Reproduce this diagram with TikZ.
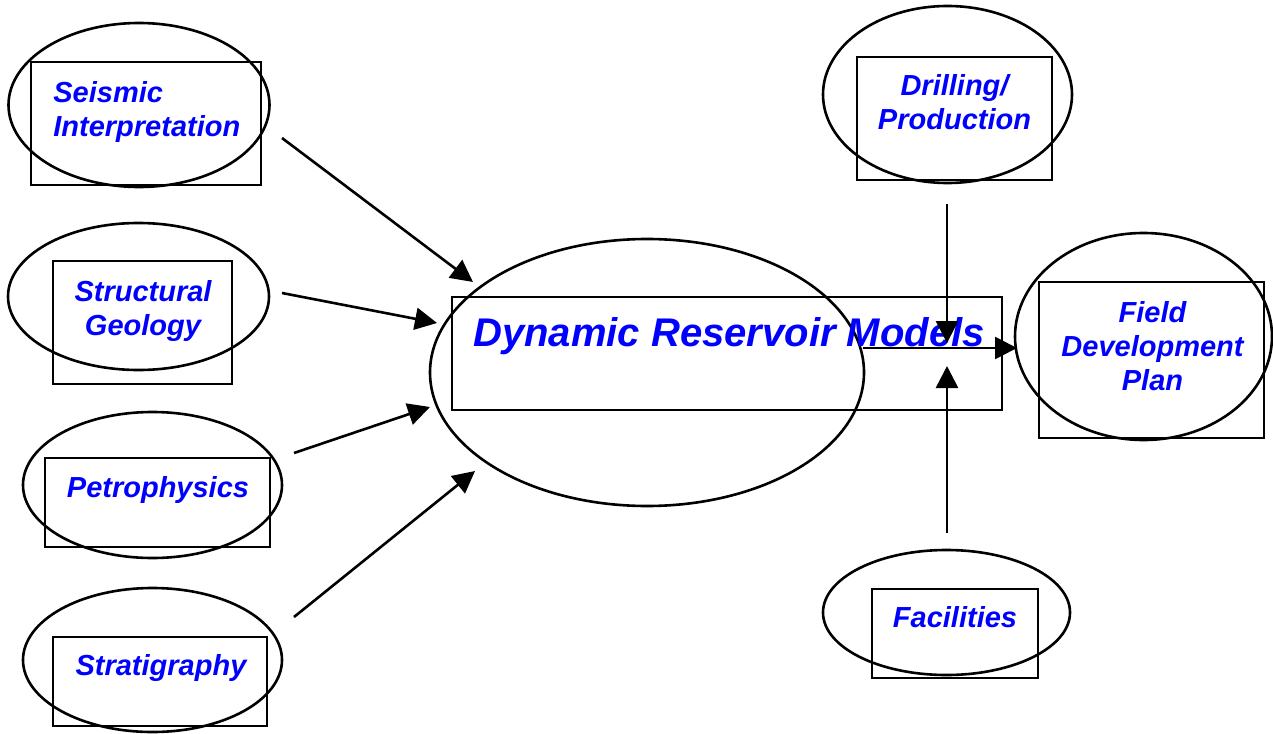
\documentclass[tikz,border=0pt]{standalone}
\usepackage{fontspec}
\setmainfont{Liberation Sans}
\usetikzlibrary{shapes.geometric,arrows.meta}
\definecolor{txtblue}{RGB}{0,0,255}
\tikzset{
  oval/.style={draw, ellipse, line width=1.3pt, inner sep=0pt, outer sep=0pt},
  box/.style={draw, rectangle, line width=1.3pt, inner sep=0pt, outer sep=0pt},
  lbl/.style={text=txtblue, inner sep=0pt, font=\fontsize{14.5}{17}\selectfont\bfseries\itshape},
  biglbl/.style={text=txtblue, inner sep=0pt, font=\fontsize{20}{24}\selectfont\bfseries\itshape},
  link/.style={line width=1.3pt, -{Triangle[length=11pt,width=11pt]}}
}
\begin{document}
\begin{tikzpicture}[x=0.5pt,y=-0.5pt]
\useasboundingbox (0,0) rectangle (1273,733);
% Seismic
\node[oval, minimum width=130.5pt, minimum height=82pt] (seisE) at (139,105) {};
\node[box, minimum width=115pt, minimum height=61.5pt] (seisB) at (146,123.5) {};
\node[lbl, align=left, anchor=west] (seisT) at (53,112) {Seismic\\Interpretation};
% Structural
\node[oval, minimum width=130.5pt, minimum height=73.5pt] (strE) at (138.5,296.5) {};
\node[box, minimum width=89.5pt, minimum height=61.5pt] (strB) at (142.5,322.5) {};
\node[lbl, align=center] (strT) at (143,311) {Structural\\Geology};
% Petrophysics
\node[oval, minimum width=129.5pt, minimum height=73pt] (petE) at (152.5,485) {};
\node[box, minimum width=112.5pt, minimum height=44.5pt] (petB) at (157.5,502.5) {};
\node[lbl, anchor=base] (petT) at (158,497) {Petrophysics};
% Stratigraphy
\node[oval, minimum width=129.5pt, minimum height=72pt] (strtE) at (152.5,660) {};
\node[box, minimum width=107pt, minimum height=44.5pt] (strtB) at (160,681.5) {};
\node[lbl, anchor=base] (strtT) at (161,675) {Stratigraphy};
% Central
\node[oval, minimum width=217pt, minimum height=133.5pt] (dynE) at (647,372.5) {};
\node[box, minimum width=275pt, minimum height=56.5pt] (dynB) at (727,353.5) {};
\node[biglbl, anchor=base west] (dynT) at (473,346) {Dynamic Reservoir Models};
% Drilling
\node[oval, minimum width=124.5pt, minimum height=88.5pt] (drlE) at (947.5,94.5) {};
\node[box, minimum width=97.5pt, minimum height=61.5pt] (drlB) at (954.5,118.5) {};
\node[lbl, align=center] (drlT) at (954.5,102.5) {Drilling/\\Production};
% Field Development Plan
\node[oval, minimum width=128.5pt, minimum height=103.5pt] (fdpE) at (1143.5,336.5) {};
\node[box, minimum width=112.5pt, minimum height=78pt] (fdpB) at (1151.5,360) {};
\node[lbl, align=center] (fdpT) at (1152.5,346) {Field\\Development\\Plan};
% Facilities
\node[oval, minimum width=123.5pt, minimum height=62.5pt] (facE) at (946.5,612.5) {};
\node[box, minimum width=83pt, minimum height=44.5pt] (facB) at (955,633.5) {};
\node[lbl, anchor=base] (facT) at (955,627) {Facilities};
% connector ends
\coordinate (s1) at (282,138);  \coordinate (e1) at (473,282);
\coordinate (s2) at (282,293);  \coordinate (e2) at (437,323);
\coordinate (s3) at (294,453);  \coordinate (e3) at (430,407);
\coordinate (s4) at (294,617);  \coordinate (e4) at (475,471);
\coordinate (s5) at (947,204);  \coordinate (e5) at (947,343);
\coordinate (s6) at (947,533);  \coordinate (e6) at (947,366);
\coordinate (s7) at (863,348);  \coordinate (e7) at (1017,348);
\draw[link] (s1) -- (e1);
\draw[link] (s2) -- (e2);
\draw[link] (s3) -- (e3);
\draw[link] (s4) -- (e4);
\draw[link] (s5) -- (e5);
\draw[link] (s6) -- (e6);
\draw[link] (s7) -- (e7);
\end{tikzpicture}
\end{document}
